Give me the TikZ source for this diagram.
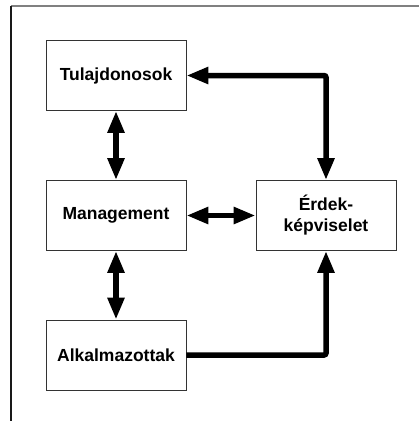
\documentclass[tikz,border=0pt]{standalone}
\usepackage{fontspec}
\setmainfont{Liberation Sans}
\usepackage{tikz}
\usetikzlibrary{arrows.meta, positioning}

\begin{document}
\begin{tikzpicture}[
    box/.style={draw=black!80, line width=0.8pt, fill=white, minimum width=140pt, minimum height=70pt,
                align=center, font=\fontsize{17.5}{21}\selectfont\bfseries},
    biarrow/.style={line width=5.5pt, rounded corners=2pt,
                {Triangle[length=22pt,width=16pt]}-{Triangle[length=22pt,width=16pt]}},
    onearrow/.style={line width=5.5pt, rounded corners=2pt, -{Triangle[length=22pt,width=16pt]}}
]
                        \useasboundingbox (0,0) rectangle (419pt,-421pt);
                        \draw[black!50, line width=2pt] (11pt,-6pt) -- (419pt,-6pt);
                        \draw[black!90, line width=1.2pt] (11pt,-6pt) -- (11pt,-421pt);
                        \node[box] (tul) at (116pt,-75.5pt) {Tulajdonosok};
                        \node[box] (man) at (116pt,-215.5pt) {Management};
                        \node[box] (alk) at (116pt,-355pt) {Alkalmazottak};
                        \node[box] (erd) at (326pt,-215.5pt) {Érdek-\\képviselet};
                        \draw[biarrow] (tul) -- (man);
                        \draw[biarrow] (man) -- (alk);
                        \draw[biarrow] (man) -- (erd);
                        \draw[biarrow] (tul.east) -| (erd.north);
                        \draw[onearrow] (alk.east) -| (erd.south);
                    \end{tikzpicture}
\end{document}
